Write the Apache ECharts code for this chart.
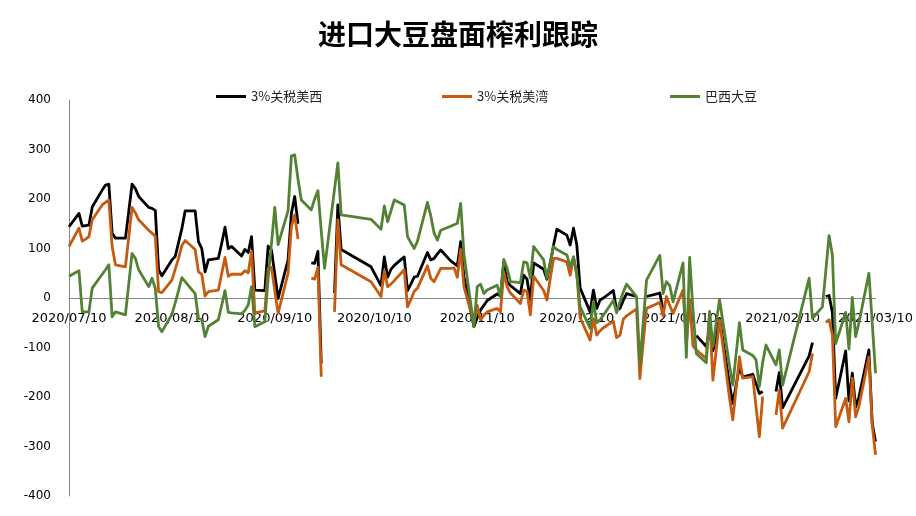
<!DOCTYPE html>
<html>
<head>
<meta charset="utf-8">
<title>进口大豆盘面榨利跟踪</title>
<script src="https://cdn.jsdelivr.net/npm/echarts@6.0.0/dist/echarts.min.js"></script>
<style>
  html, body { margin: 0; padding: 0; background: #fff; }
  #main { width: 916px; height: 516px; }
</style>
</head>
<body>
<div id="main"></div>
<script type="text/javascript">
// 交易日（按月分行）
var dates = [
  '2020-07-10','2020-07-13','2020-07-14','2020-07-15','2020-07-16','2020-07-17','2020-07-20','2020-07-21','2020-07-22','2020-07-23','2020-07-24','2020-07-27','2020-07-28','2020-07-29','2020-07-30','2020-07-31',
  '2020-08-03','2020-08-04','2020-08-05','2020-08-06','2020-08-07','2020-08-10','2020-08-11','2020-08-12','2020-08-13','2020-08-14','2020-08-17','2020-08-18','2020-08-19','2020-08-20','2020-08-21','2020-08-24','2020-08-25','2020-08-26','2020-08-27','2020-08-28','2020-08-31',
  '2020-09-01','2020-09-02','2020-09-03','2020-09-04','2020-09-07','2020-09-08','2020-09-09','2020-09-10','2020-09-11','2020-09-14','2020-09-15','2020-09-16','2020-09-17','2020-09-18','2020-09-21','2020-09-22','2020-09-23','2020-09-24','2020-09-25','2020-09-28','2020-09-29','2020-09-30',
  '2020-10-09','2020-10-12','2020-10-13','2020-10-14','2020-10-15','2020-10-16','2020-10-19','2020-10-20','2020-10-21','2020-10-22','2020-10-23','2020-10-26','2020-10-27','2020-10-28','2020-10-29','2020-10-30',
  '2020-11-02','2020-11-03','2020-11-04','2020-11-05','2020-11-06','2020-11-09','2020-11-10','2020-11-11','2020-11-12','2020-11-13','2020-11-16','2020-11-17','2020-11-18','2020-11-19','2020-11-20','2020-11-23','2020-11-24','2020-11-25','2020-11-26','2020-11-27','2020-11-30',
  '2020-12-01','2020-12-02','2020-12-03','2020-12-04','2020-12-07','2020-12-08','2020-12-09','2020-12-10','2020-12-11','2020-12-14','2020-12-15','2020-12-16','2020-12-17','2020-12-18','2020-12-21','2020-12-22','2020-12-23','2020-12-24','2020-12-25','2020-12-28','2020-12-29','2020-12-30','2020-12-31',
  '2021-01-04','2021-01-05','2021-01-06','2021-01-07','2021-01-08','2021-01-11','2021-01-12','2021-01-13','2021-01-14','2021-01-15','2021-01-18','2021-01-19','2021-01-20','2021-01-21','2021-01-22','2021-01-25','2021-01-26','2021-01-27','2021-01-28','2021-01-29',
  '2021-02-01','2021-02-02','2021-02-03','2021-02-04','2021-02-05','2021-02-08','2021-02-09','2021-02-10','2021-02-18','2021-02-19','2021-02-22','2021-02-23','2021-02-24','2021-02-25','2021-02-26',
  '2021-03-01','2021-03-02','2021-03-03','2021-03-04','2021-03-05','2021-03-08','2021-03-09','2021-03-10'
];

// 3%关税美西
var usWest = [
  144,171,145,146,147,184,218,228,230,131,121,121,175,230,221,205,
  183,181,177,57,45,77,84,112,140,176,176,114,100,53,77,80,110,143,100,104,85,
  98,92,124,16,15,105,97,48,-1,77,171,205,150,null,71,70,94,-132,null,10,188,98,
  63,25,83,42,58,66,83,15,28,42,44,92,77,80,89,97,
  75,70,65,114,43,-58,-40,-24,-15,-5,8,4,71,33,25,9,46,38,-4,71,58,
  38,70,107,139,127,107,141,107,20,-28,16,-21,-4,0,15,-25,-21,-5,9,3,null,null,3,
  10,-25,null,null,null,null,null,null,null,-76,-98,-65,-107,-75,-41,-174,-213,-176,-139,-160,
  -154,-173,-193,-189,null,-189,-151,-222,-117,-90,null,3,5,-29,-203,
  -107,-208,-152,-220,-200,-105,-253,-290
];

// 3%关税美湾
var usGulf = [
  104,141,115,119,124,158,188,193,198,104,67,63,123,183,172,158,
  137,131,125,13,11,36,58,80,106,116,98,53,48,4,13,16,49,82,44,48,48,
  55,51,94,-30,-26,60,62,15,-31,50,144,168,119,null,40,38,62,-159,null,-28,158,67,
  33,3,55,23,28,35,57,-18,-3,13,20,65,40,33,46,60,
  60,61,42,98,23,-51,-15,-44,-35,-28,-21,-28,53,23,10,-11,16,13,-34,44,15,
  -4,40,80,80,73,46,83,50,-40,-85,-42,-75,-66,-60,-47,-80,-75,-43,-36,-22,-163,-90,-21,
  -9,-36,3,-15,-31,16,-95,-4,-97,-105,-122,-35,-166,-105,-44,-201,-246,-182,-119,-162,
  -159,-220,-280,-199,null,-236,-186,-263,-149,-112,null,-49,-44,-75,-260,
  -203,-250,-162,-240,-219,-119,-257,-317
];

// 巴西大豆
var brazil = [
  44,55,-28,-28,-28,20,48,57,67,-38,-28,-34,28,90,80,57,
  23,40,20,-58,-68,-33,-10,15,41,33,9,-41,-44,-78,-57,-44,-15,15,-29,-30,-32,
  -25,-14,23,-58,-48,40,110,183,108,176,287,289,240,198,178,200,217,135,60,220,273,168,
  159,139,186,154,176,198,188,124,112,100,115,193,166,131,117,137,
  145,148,151,191,88,-58,23,28,9,16,26,3,78,60,33,31,73,71,40,104,77,
  40,72,104,98,87,63,83,46,-18,-61,-7,-50,-44,-35,-5,-30,-8,12,28,3,-135,-50,36,
  86,9,33,25,-8,71,-120,82,-25,-112,-131,-27,-98,-50,-3,-137,-176,-113,-50,-105,
  -116,-125,-179,-130,-95,-135,-105,-176,40,-41,-18,54,126,87,-92,
  -29,-103,1,-78,-50,50,-50,-152
];

// 横轴标签（每月10日）
var monthTicks = ['2020-07-10','2020-08-10','2020-09-10','2020-10-10','2020-11-10','2020-12-10','2021-01-10','2021-02-10','2021-03-10'];

var seriesNames = ['3%关税美西', '3%关税美湾', '巴西大豆'];
var seriesColors = ['#000000', '#C55A11', '#548235'];

function ts(s) {
  var p = s.split('-');
  return new Date(+p[0], +p[1] - 1, +p[2]).getTime();
}
function pad(n) { return n < 10 ? '0' + n : '' + n; }
function pairs(vals) {
  return dates.map(function(d, i) {
    return [ts(d), vals[i] === null ? '-' : vals[i]];
  });
}

var myChart = echarts.init(document.getElementById('main'));

var legendLeft = [211, 437, 665];
var allValues = [usWest, usGulf, brazil];
var gridTop = 100, gridBottom = 20, chartH = 516;
// 横轴放在0值处：网格高度的一半
var zeroOffset = -(chartH - gridTop - gridBottom) / 2;

var option = {
  animation: false,
  backgroundColor: '#ffffff',
  title: {
    text: '进口大豆盘面榨利跟踪',
    left: 'center',
    top: 15,
    textStyle: {
      fontFamily: 'Noto Sans CJK SC',
      fontSize: 28,
      fontWeight: 'bold',
      color: '#000'
    }
  },
  legend: seriesNames.map(function(name, i) {
    return {
      data: [name],
      left: legendLeft[i],
      top: 85,
      icon: 'rect',
      itemWidth: 30,
      itemHeight: 3,
      itemGap: 5,
      textStyle: { fontFamily: 'Noto Sans CJK SC', fontSize: 13, color: '#222' }
    };
  }),
  grid: {
    left: 69,
    right: 19,
    top: gridTop,
    bottom: gridBottom
  },
  // 日期轴用数值轴承载时间戳，标签固定在每月10日
  xAxis: {
    type: 'value',
    min: ts('2020-07-10'),
    max: ts('2021-03-10'),
    position: 'bottom',
    offset: zeroOffset,
    axisLine: { onZero: false, lineStyle: { color: '#868686', width: 1 } },
    axisTick: { show: false },
    splitLine: { show: false },
    axisLabel: {
      customValues: monthTicks.map(ts),
      showMinLabel: true,
      showMaxLabel: true,
      hideOverlap: false,
      alignMinLabel: 'center',
      alignMaxLabel: 'center',
      margin: 14,
      fontFamily: 'DejaVu Sans',
      fontSize: 13,
      color: '#000',
      formatter: function(v) {
        var d = new Date(v);
        return d.getFullYear() + '/' + pad(d.getMonth() + 1) + '/' + pad(d.getDate());
      }
    }
  },
  yAxis: {
    type: 'value',
    min: -400,
    max: 400,
    interval: 100,
    axisLine: { show: true, onZero: false, lineStyle: { color: '#868686', width: 1 } },
    axisTick: { show: false },
    splitLine: { show: false },
    axisLabel: {
      margin: 18,
      fontFamily: 'DejaVu Sans',
      fontSize: 12,
      color: '#000'
    }
  },
  series: seriesNames.map(function(name, i) {
    return {
      name: name,
      type: 'line',
      symbol: 'none',
      showSymbol: false,
      connectNulls: false,
      color: seriesColors[i],
      lineStyle: { width: 2.8, color: seriesColors[i], join: 'round' },
      data: pairs(allValues[i])
    };
  })
};

myChart.setOption(option);
</script>
</body>
</html>
